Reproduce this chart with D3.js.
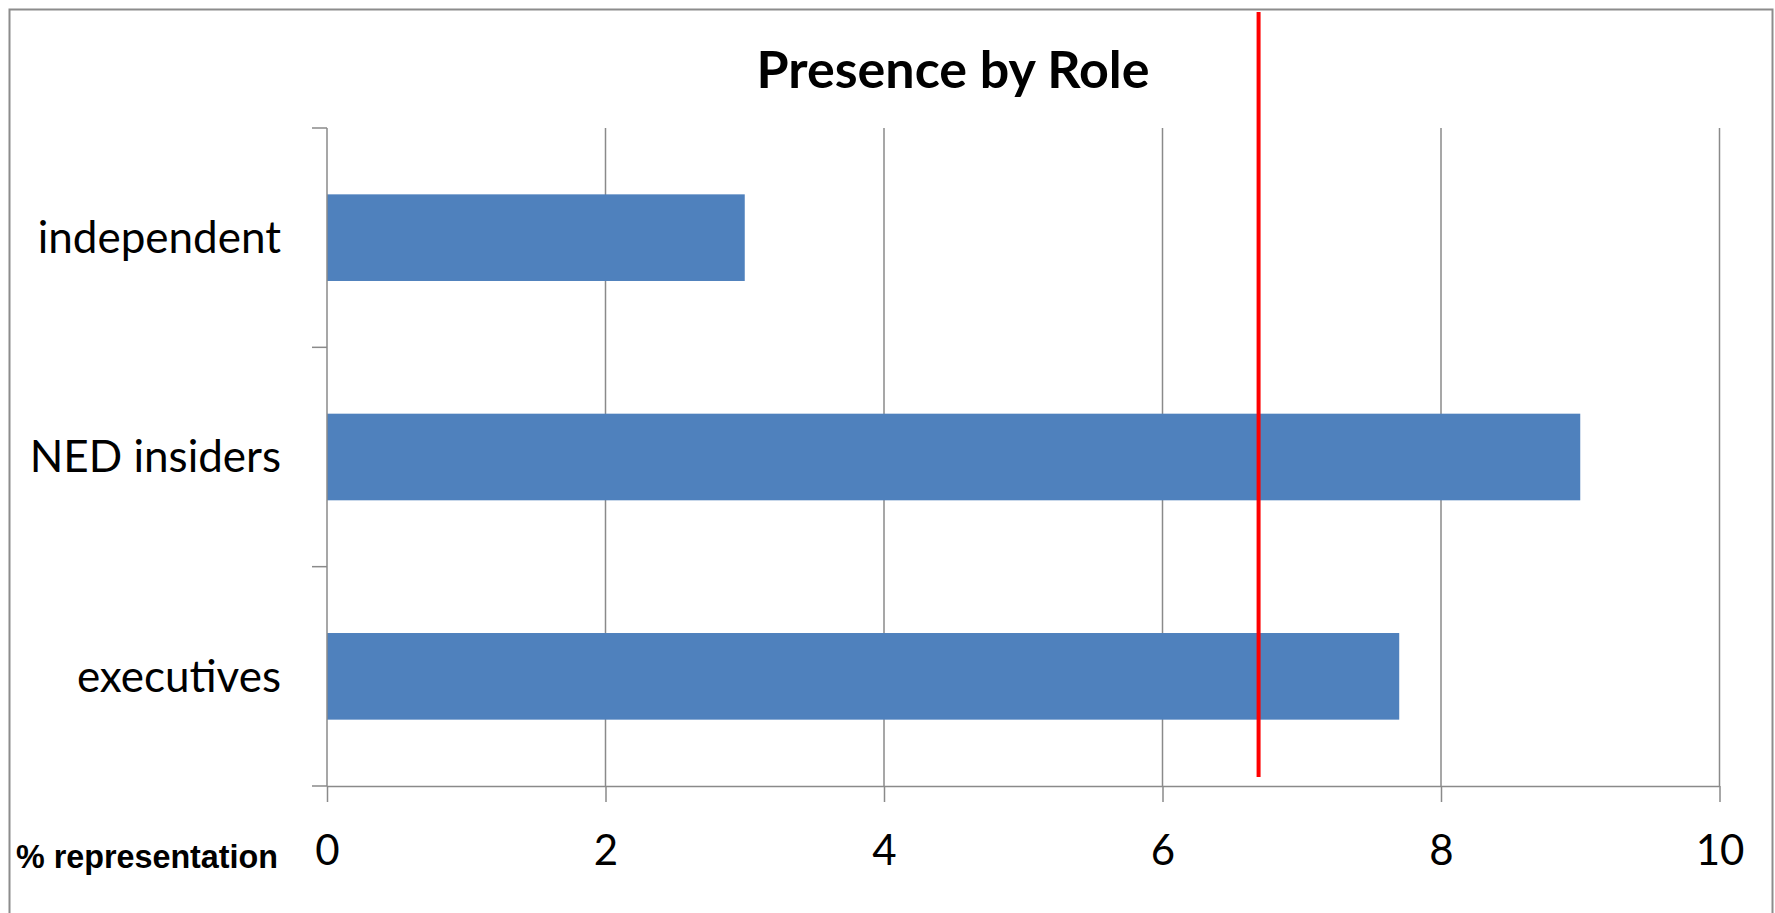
<!DOCTYPE html>
<html>
<head>
<meta charset="utf-8">
<script src="https://cdn.jsdelivr.net/npm/d3@7"></script>
<style>
  body { margin: 0; background: #fff; }
  svg { display: block; }
</style>
</head>
<body>
<div id="chart"></div>
<script>
const svgWidth = 1775
const svgHeight = 913

// data
const categories = ["independent", "NED insiders", "executives"]
const values = [3, 9, 7.7]
const xTicks = [0, 2, 4, 6, 8, 10]
const averageLine = [6.69]
const titleText = "Presence by Role"
const xLabel = "% representation"

let margin = { top: 128, right: 55, bottom: 127, left: 327 }
let width = 1719.5 - margin.left
let height = svgHeight - margin.top - margin.bottom

let svg = d3
  .select("#chart")
  .append("svg")
  .attr("width", svgWidth)
  .attr("height", svgHeight)

// outer border
svg
  .append("rect")
  .attr("x", 9.5)
  .attr("y", 9.5)
  .attr("width", 1763)
  .attr("height", 906)
  .attr("fill", "none")
  .attr("stroke", "#8c8c8c")
  .attr("stroke-width", 2)

svg
  .append("text")
  .attr("x", 953)
  .attr("y", 88)
  .attr("text-anchor", "middle")
  .style("font-family", "Lato, 'Open Sans', sans-serif")
  .style("font-weight", "bold")
  .style("font-size", "52px")
  .text(titleText)

let chartGroup = svg
  .append("g")
  .attr("transform", `translate(${margin.left}, ${margin.top})`)

let xScale = d3.scaleLinear().domain([0, 10]).range([0, width])

let yScale = d3
  .scaleBand()
  .domain(categories)
  .range([0, height])
  .paddingInner(0.605)
  .paddingOuter(0.3025)

// vertical gridlines
chartGroup
  .selectAll("line.grid")
  .data(xTicks.slice(1))
  .enter()
  .append("line")
  .attr("class", "grid")
  .attr("x1", d => xScale(d))
  .attr("x2", d => xScale(d))
  .attr("y1", 0)
  .attr("y2", height)
  .attr("stroke", "#8a8a8a")
  .attr("stroke-width", 1.5)

// bars
chartGroup
  .selectAll("rect.bar")
  .data(categories)
  .enter()
  .append("rect")
  .attr("class", "bar")
  .attr("x", xScale(0))
  .attr("y", d => yScale(d))
  .attr("width", (d, i) => xScale(values[i]) - xScale(0))
  .attr("height", yScale.bandwidth())
  .attr("fill", "#4f81bd")

// x axis
let bottomAxis = d3
  .axisBottom(xScale)
  .tickValues(xTicks)
  .tickSize(16)
  .tickPadding(48)
  .tickSizeOuter(0)

let xAxis = chartGroup
  .append("g")
  .attr("transform", `translate(0, ${height})`)
  .call(bottomAxis)

xAxis.select(".domain").attr("stroke", "#8a8a8a").attr("stroke-width", 1.5)
xAxis.selectAll(".tick line").attr("stroke", "#8a8a8a").attr("stroke-width", 1.5)
xAxis
  .selectAll(".tick text")
  .attr("fill", "#000")
  .attr("dy", "0.35em")
  .style("font-family", "Lato, 'Open Sans', sans-serif")
  .style("font-size", "42px")

// y axis: ticks sit on band boundaries
let boundaries = d3.range(categories.length + 1).map(i => i * height / categories.length)

chartGroup
  .append("line")
  .attr("x1", 0)
  .attr("x2", 0)
  .attr("y1", 0)
  .attr("y2", height)
  .attr("stroke", "#8a8a8a")
  .attr("stroke-width", 1.5)

chartGroup
  .selectAll("line.ytick")
  .data(boundaries)
  .enter()
  .append("line")
  .attr("class", "ytick")
  .attr("x1", -15)
  .attr("x2", 0)
  .attr("y1", d => d)
  .attr("y2", d => d)
  .attr("stroke", "#8a8a8a")
  .attr("stroke-width", 1.5)

chartGroup
  .selectAll("text.cat")
  .data(categories)
  .enter()
  .append("text")
  .attr("class", "cat")
  .attr("x", -46)
  .attr("y", d => yScale(d) + yScale.bandwidth() / 2)
  .attr("dy", "0.35em")
  .attr("text-anchor", "end")
  .style("font-family", "Lato, 'Open Sans', sans-serif")
  .style("font-size", "44px")
  .text(d => d)

// average marker line
chartGroup
  .selectAll("line.avg")
  .data(averageLine)
  .enter()
  .append("line")
  .attr("class", "avg")
  .attr("x1", d => xScale(d))
  .attr("x2", d => xScale(d))
  .attr("y1", 12 - margin.top)
  .attr("y2", height - 9)
  .attr("stroke", "#ff0000")
  .attr("stroke-width", 4)

svg
  .append("text")
  .attr("x", 16)
  .attr("y", 868)
  .attr("textLength", 262)
  .attr("lengthAdjust", "spacingAndGlyphs")
  .style("font-family", "'Liberation Sans', Arial, sans-serif")
  .style("font-weight", "bold")
  .style("font-size", "34px")
  .text(xLabel)
</script>
</body>
</html>
